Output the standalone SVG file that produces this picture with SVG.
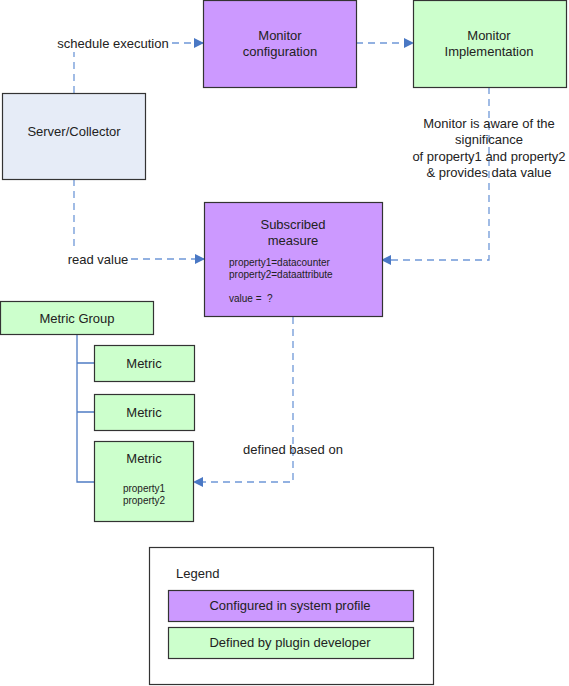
<svg xmlns="http://www.w3.org/2000/svg" width="569" height="686" viewBox="0 0 569 686">
<style>
text{font-family:"Liberation Sans",Arial,sans-serif;font-size:13px;fill:#222;text-anchor:middle}
.s{font-size:10px;text-anchor:start}
.c{font-size:10px}
.box{stroke:#333;stroke-width:1.2}
.p{fill:#cc99ff}
.g{fill:#ccffcc}
.b{fill:#e6ecf7}
.d{fill:none;stroke:#6f98d8;stroke-width:1.3;stroke-dasharray:7,5}
.t{fill:none;stroke:#4f7cc4;stroke-width:1.3}
</style>
<defs>
<marker id="ah" markerWidth="10" markerHeight="10" refX="9" refY="5" orient="auto" markerUnits="userSpaceOnUse">
<path d="M0,0 L10,5 L0,10 z" fill="#4a78c4"/>
</marker>
</defs>
<rect width="569" height="686" fill="#fff"/>
<g id="connectors">
<path class="d" d="M74,93 V52"/>
<path class="d" d="M172,43 H203" marker-end="url(#ah)"/>
<path class="d" d="M356,43 H413" marker-end="url(#ah)"/>
<path class="d" d="M74,179 V250"/>
<path class="d" d="M131,259 H204" marker-end="url(#ah)"/>
<path class="d" d="M489,87 V260 H382" marker-end="url(#ah)"/>
<path class="d" d="M293,317 V482 H194" marker-end="url(#ah)"/>
<path class="t" d="M77,335 V482 H94 M77,363 H94 M77,412 H94"/>
<text x="113" y="48">schedule execution</text>
<text x="98" y="264">read value</text>
<text x="489" y="128">Monitor is aware of the</text>
<text x="489" y="144">significance</text>
<text x="489" y="161">of property1 and property2</text>
<text x="489" y="177">&amp; provides data value</text>
<text x="293" y="454">defined based on</text>
</g>
<g id="monitor-configuration">
<rect class="box p" x="203.5" y="0.5" width="153" height="87"/>
<text x="280" y="40">Monitor</text>
<text x="280" y="56">configuration</text>
</g>
<g id="monitor-implementation">
<rect class="box g" x="413.5" y="0.5" width="153" height="87"/>
<text x="489" y="40">Monitor</text>
<text x="489" y="56">Implementation</text>
</g>
<g id="server-collector">
<rect class="box b" x="2.5" y="93.5" width="143" height="86"/>
<text x="74" y="136">Server/Collector</text>
</g>
<g id="subscribed-measure">
<rect class="box p" x="204.5" y="202.5" width="178" height="114"/>
<text x="293" y="229">Subscribed</text>
<text x="293" y="245">measure</text>
<text class="s" x="229" y="266">property1=datacounter</text>
<text class="s" x="229" y="278">property2=dataattribute</text>
<text class="s" x="229" y="302">value =&#160; ?</text>
</g>
<g id="metric-group">
<rect class="box g" x="0.5" y="301.5" width="153" height="33"/>
<text x="77" y="323">Metric Group</text>
</g>
<g id="metric-1">
<rect class="box g" x="94.5" y="345.5" width="100" height="36"/>
<text x="144" y="368">Metric</text>
</g>
<g id="metric-2">
<rect class="box g" x="94.5" y="394.5" width="100" height="36"/>
<text x="144" y="417">Metric</text>
</g>
<g id="metric-3">
<rect class="box g" x="94.5" y="441.5" width="99" height="80"/>
<text x="144" y="463">Metric</text>
<text class="c" x="144" y="492">property1</text>
<text class="c" x="144" y="504">property2</text>
</g>
<g id="legend">
<rect x="149.5" y="547.5" width="284" height="137" fill="#fff" stroke="#333" stroke-width="1.2"/>
<text x="176" y="578" style="text-anchor:start">Legend</text>
<rect class="box p" x="168.5" y="590.5" width="245" height="31"/>
<text x="290" y="610">Configured in system profile</text>
<rect class="box g" x="168.5" y="627.5" width="245" height="31"/>
<text x="290" y="647">Defined by plugin developer</text>
</g>
</svg>
